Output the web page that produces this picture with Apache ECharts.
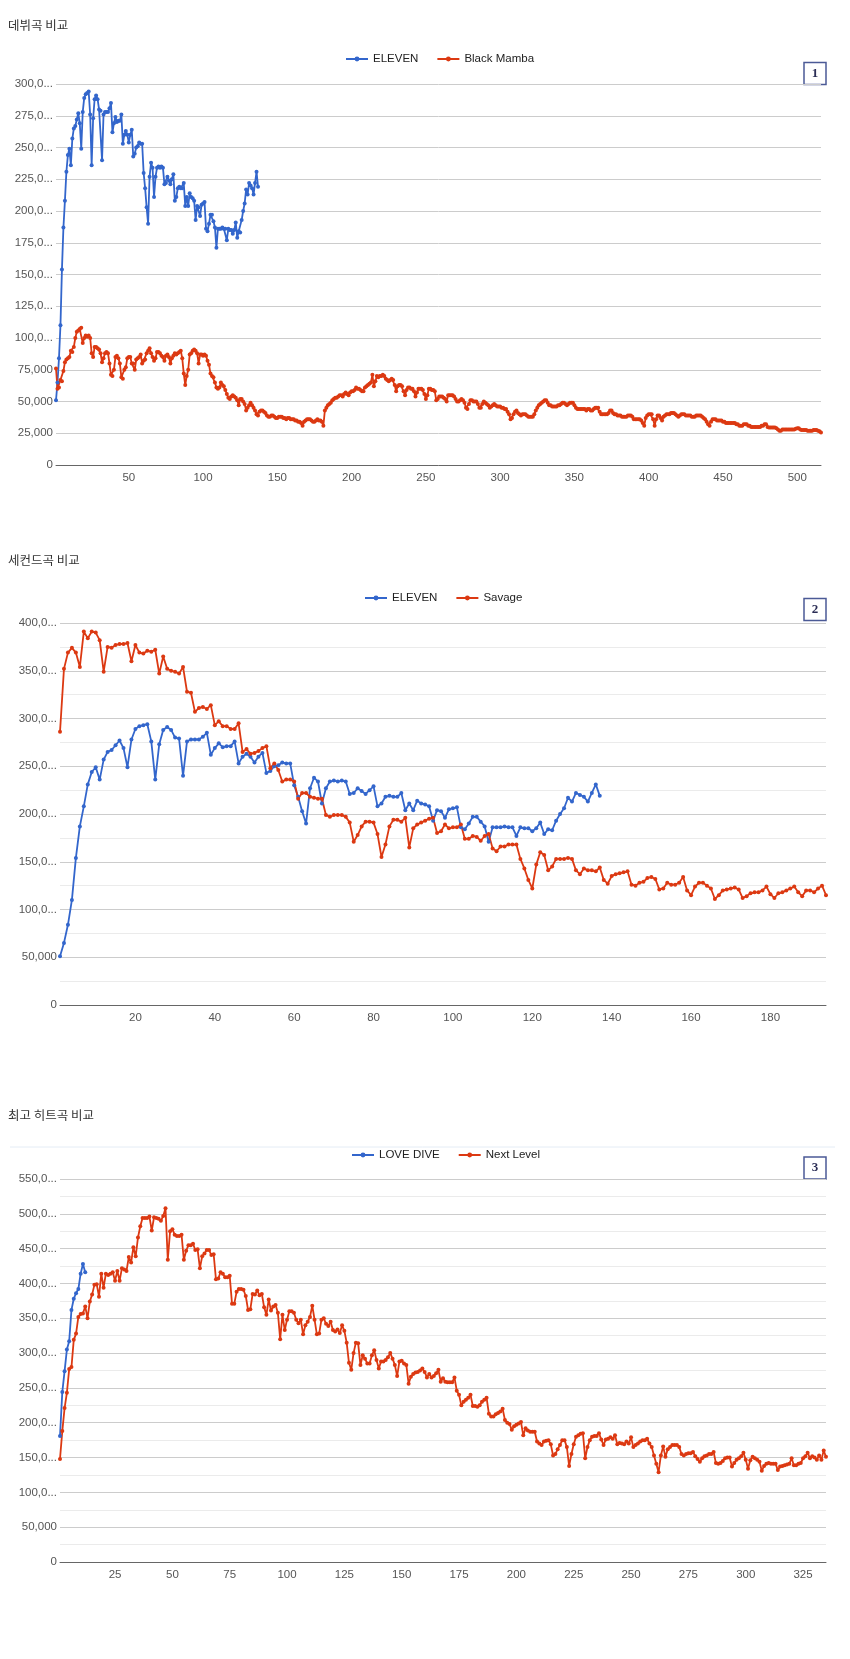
<!DOCTYPE html>
<html><head><meta charset="utf-8">
<script src="https://cdn.jsdelivr.net/npm/echarts@6/dist/echarts.min.js"></script>
<style>html,body{margin:0;padding:0;background:#fff}#c{width:850px;height:1659px}</style>
</head><body><div id="c"></div>
<script>
// ---- data (values in thousands of streams, day index = position + 1) ----
const chartTitles = ['데뷔곡 비교', '세컨드곡 비교', '최고 히트곡 비교'];
const boxNumbers = ['1', '2', '3'];

const eleven = [
51,65,84,110,154,187,208,231,244,249,
236,257,265,267,272,277,269,249,278,289,
292,293,294,276,236,273,288,291,288,280,
279,240,276,278,278,278,281,285,262,269,
274,270,271,271,276,253,260,263,260,254,
260,264,243,245,250,251,254,253,253,230,
218,203,190,227,238,234,211,227,234,235,
234,235,234,221,222,227,224,221,225,229,
208,211,218,219,218,218,222,204,211,204,
214,211,210,208,193,204,203,196,205,206,
207,186,184,190,197,197,192,187,171,186,
186,186,187,186,186,177,186,185,185,182,
185,191,179,184,183,193,200,206,217,213,
222,220,218,213,222,231,219];

const blackMamba = [
76,60,61,67,66,74,81,83,84,85,
90,89,93,100,105,106,107,108,96,100,
102,101,102,100,88,85,93,93,92,91,
88,81,84,88,89,88,80,71,70,75,
85,86,84,80,69,68,75,77,84,85,
85,80,80,75,83,84,85,87,80,82,
83,88,90,92,88,85,82,84,89,89,
88,86,85,82,86,87,85,80,84,86,
88,87,88,89,90,84,72,63,70,75,
87,88,90,91,90,88,80,87,87,86,
87,86,82,79,72,70,69,65,61,60,
61,65,63,62,59,56,53,52,54,55,
54,53,51,47,52,52,50,48,43,45,
47,49,47,45,43,40,39,42,43,43,
42,41,39,38,38,39,39,38,37,37,
38,38,38,37,37,36,37,37,36,36,
36,35,35,34,34,33,31,34,35,36,
36,36,35,34,34,35,36,35,35,34,
31,43,45,47,48,49,51,52,53,53,
54,55,55,54,56,57,56,55,57,58,
58,59,61,60,60,59,58,58,61,62,
63,64,65,71,62,66,70,69,70,70,
71,70,68,67,66,67,68,67,63,58,
62,63,63,62,58,55,59,61,61,60,
60,58,54,57,60,60,60,59,56,52,
55,60,60,59,59,58,51,52,54,54,
54,53,52,50,55,55,55,55,54,52,
50,50,51,52,51,49,45,44,48,51,
51,50,50,50,48,45,45,48,50,49,
48,47,45,46,47,48,47,46,46,46,
45,45,44,44,42,40,36,37,40,42,
43,41,40,39,40,40,40,39,38,38,
38,38,40,43,45,47,48,49,50,51,
51,49,47,47,46,46,46,46,47,47,
48,49,49,48,47,48,49,49,49,47,
45,44,44,44,44,44,44,43,44,44,
43,43,44,45,45,45,42,40,40,40,
40,40,41,43,43,41,40,40,39,39,
39,38,38,38,38,39,39,39,38,36,
36,36,36,36,35,33,31,37,39,40,
40,40,36,31,36,39,39,37,35,38,
39,40,40,40,41,41,41,40,39,38,
39,40,40,40,39,39,39,39,38,38,
38,39,39,39,39,38,37,36,34,32,
31,34,36,36,36,35,35,35,35,34,
34,33,33,33,33,33,33,33,32,32,
31,31,31,32,32,32,31,31,30,30,
30,30,30,30,30,31,31,32,32,30,
29.5,29.5,29.5,29.5,29.5,29,28,27,27,28,
28,28,28,28,28,28,28,28,28.5,29,
29,28,27.5,27.5,27.5,27.5,27,27,27,27,
27.5,27.5,27.5,27,26.5,25.5];

const savage = [
286,352,369,374,369,354,391,384,391,390,
382,349,375,374,377,378,378,379,360,377,
369,368,371,370,372,347,365,352,350,349,
347,354,328,327,307,311,312,310,314,293,
297,292,292,289,289,295,265,268,263,264,
266,269,271,248,253,246,234,236,236,234,
216,222,222,218,217,216,216,199,197,199,
199,199,197,191,171,178,187,192,192,191,
179,155,168,187,194,194,192,196,165,185,
189,191,193,195,196,180,182,189,185,186,
186,189,174,174,177,176,172,177,179,164,
161,166,166,168,168,168,153,143,131,122,
147,160,157,141,145,153,153,153,154,153,
141,137,143,141,141,140,144,131,127,135,
137,138,139,140,126,125,128,129,133,134,
132,121,122,128,126,126,128,134,120,115,
124,128,128,125,122,111,115,120,121,122,
123,121,112,114,117,118,118,120,124,116,
112,117,118,120,122,124,118,114,120,120,
118,122,125,115];

const loveDive = [181,244,274,305,317,362,378,386,392,414,428,416];

const nextLevel = [
148,188,221,243,277,280,319,328,352,356,
357,367,350,374,384,398,399,381,414,394,
414,412,414,416,404,418,404,422,420,418,
438,430,452,439,466,482,494,494,494,496,
476,495,494,493,490,497,508,434,475,478,
470,468,468,470,434,447,455,455,457,448,
449,422,439,443,448,448,441,442,406,407,
416,414,409,409,411,371,371,388,392,392,
391,382,362,363,385,384,390,383,385,366,
355,377,361,367,369,358,320,355,333,348,
360,360,358,348,343,348,327,340,345,352,
368,348,327,328,348,350,342,339,345,333,
331,334,329,340,332,315,286,276,300,315,
314,283,297,292,285,285,297,304,290,278,
288,288,290,294,300,292,283,267,288,289,
285,283,256,266,270,272,273,275,278,273,
265,270,265,267,271,276,259,264,259,258,
258,258,265,246,240,225,230,233,236,240,
224,224,223,225,230,233,236,213,209,209,
212,214,216,220,204,200,198,190,195,197,
199,201,182,192,189,187,187,187,173,170,
168,173,174,175,169,153,155,162,168,175,
175,165,138,155,169,180,182,184,185,149,
165,175,180,181,181,185,176,168,176,177,
179,177,182,169,171,170,169,173,170,179,
165,168,170,173,175,175,177,170,165,153,
141,129,153,166,151,162,165,168,168,168,
165,155,153,155,156,156,158,152,148,144,
149,152,153,155,155,158,142,141,142,145,
149,150,150,137,142,147,149,152,157,147,
134,146,151,149,147,144,131,138,141,142,
141,141,141,132,137,138,139,140,141,149,
139,139,141,142,149,152,157,149,152,150,
147,153,147,160,151];

const xTicks1 = [50,100,150,200,250,300,350,400,450,500];
const xTicks2 = [20,40,60,80,100,120,140,160,180];
const xTicks3 = [25,50,75,100,125,150,175,200,225,250,275,300,325];

// ---- build ----
const BLUE = '#3366cc', RED = '#dc3912';
const FONT = "'Liberation Sans', Arial, sans-serif";
function pairs(arr){ return arr.map((v,i)=>[i+1, Math.round(v*1000)]); }
function fmt(v){
  const s = String(v).replace(/\B(?=(\d{3})+(?!\d))/g, ',');
  return s.length > 6 ? s.slice(0,5) + '...' : s;
}
const panels = [
  {grid:{left:56,right:29,top:84,bottom:1659-465}, xmax:blackMamba.length, ymax:300000, yint:25000, minor:false, ticks:xTicks1, legendLeft:345, legendY:60, titleY:27, box:[804,62.5], names:['ELEVEN','Black Mamba'], data:[eleven, blackMamba]},
  {grid:{left:60,right:24,top:623,bottom:1659-1005}, xmax:savage.length, ymax:400000, yint:50000, minor:true, ticks:xTicks2, legendLeft:364, legendY:599, titleY:562, box:[804,598.5], names:['ELEVEN','Savage'], data:[eleven, savage]},
  {grid:{left:60,right:24,top:1179,bottom:1659-1562}, xmax:nextLevel.length, ymax:550000, yint:50000, minor:true, ticks:xTicks3, legendLeft:351, legendY:1156, titleY:1117, box:[804,1157], names:['LOVE DIVE','Next Level'], data:[loveDive, nextLevel]}
];

const option = {
  animation:false,
  backgroundColor:'#fff',
  title:[], legend:[], grid:[], xAxis:[], yAxis:[], series:[], graphic:[]
};
panels.forEach((p,k)=>{
  option.title.push({text:chartTitles[k], left:8, top:p.titleY-8, padding:0,
    textStyle:{fontSize:12.5, fontWeight:'normal', color:'#333', fontFamily:"'Noto Sans CJK KR', sans-serif"}});
  option.legend.push({data:p.names, left:p.legendLeft, top:p.legendY-7, padding:0, itemWidth:22, itemHeight:6, itemGap:18,
    textStyle:{fontSize:11.5, color:'#222', fontFamily:FONT}});
  option.grid.push(p.grid);
  option.xAxis.push({type:'value', gridIndex:k, min:1, max:p.xmax,
    splitLine:{show:false}, axisTick:{show:false},
    axisLine:{show:true, lineStyle:{color:'#666', width:1}},
    axisLabel:{customValues:p.ticks, color:'#555', fontSize:11.5, fontFamily:FONT, margin:7}});
  const y = {type:'value', gridIndex:k, min:0, max:p.ymax, interval:p.yint,
    axisLine:{show:false}, axisTick:{show:false},
    splitLine:{show:true, lineStyle:{color:'#cccccc', width:1}},
    axisLabel:{formatter:fmt, color:'#555', fontSize:11.5, fontFamily:FONT, margin:3}};
  if (p.minor){
    y.minorTick = {show:true, splitNumber:2, length:0, lineStyle:{opacity:0}};
    y.minorSplitLine = {show:true, lineStyle:{color:'#ebebeb', width:1}};
  }
  option.yAxis.push(y);
  [BLUE, RED].forEach((c,j)=>{
    option.series.push({type:'line', name:p.names[j], xAxisIndex:k, yAxisIndex:k,
      data:pairs(p.data[j]), color:c, symbol:'circle', symbolSize:4, showSymbol:true, showAllSymbol:true,
      lineStyle:{width:1.8, color:c}, itemStyle:{color:c}, emphasis:{disabled:true}});
  });
  option.graphic.push({type:'group', z:100, children:[
    {type:'rect', shape:{x:p.box[0], y:p.box[1], width:22, height:22},
      style:{fill:'#fff', stroke:'#4b5a96', lineWidth:1.5}},
    {type:'text', x:p.box[0]+11, y:p.box[1]+11,
      style:{text:boxNumbers[k], font:"bold 13px 'Liberation Serif', serif", fill:'#2b2d55', align:'center', verticalAlign:'middle'}}
  ]});
});
option.graphic.push({type:'line', z:1, shape:{x1:10, y1:1147, x2:835, y2:1147}, style:{stroke:'#e4ecf5', lineWidth:1}});

const chart = echarts.init(document.getElementById('c'), null, {renderer:'canvas'});
chart.setOption(option);
</script>
</body></html>
